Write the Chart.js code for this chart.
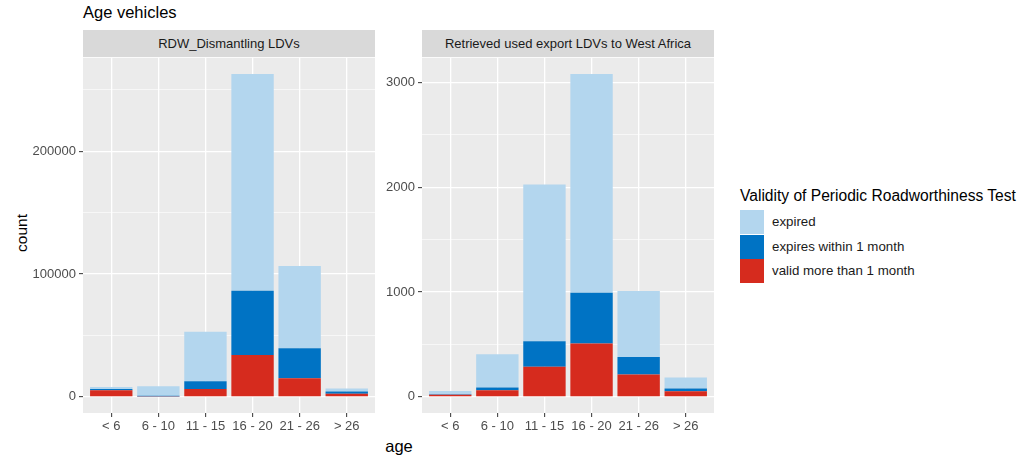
<!DOCTYPE html>
<html>
<head>
<meta charset="utf-8">
<script src="https://cdn.jsdelivr.net/npm/chart.js@4/dist/chart.umd.min.js"></script>
<style>
  html, body { margin:0; padding:0; background:#fff; width:1033px; height:455px; overflow:hidden; font-family:"Liberation Sans", Arial, sans-serif; }
  .abs { position:absolute; }
  .strip { position:absolute; background:#d9d9d9; color:#1a1a1a; font-size:13px; text-align:center; height:27px; line-height:27px; top:30px; white-space:nowrap; }
  .key { position:absolute; left:740px; width:24px; height:24px; }
  .lab { position:absolute; left:772px; font-size:13.3px; color:#1a1a1a; white-space:nowrap; }
</style>
</head>
<body>
<div class="abs" style="left:83px; top:3px; font-size:16.5px; color:#000;">Age vehicles</div>
<div class="strip" style="left:83px; width:292px;">RDW_Dismantling LDVs</div>
<div class="strip" style="left:422px; width:292px;">Retrieved used export LDVs to West Africa</div>
<div class="abs" style="left:22px; top:233px; transform:translate(-50%,-50%) rotate(-90deg); font-size:15.5px; color:#000;">count</div>
<div class="abs" style="left:399px; top:446px; transform:translate(-50%,-50%); font-size:16.5px; color:#000;">age</div>

<div class="abs" style="left:0; top:47px; width:375px; height:390px;"><canvas id="c1"></canvas></div>
<div class="abs" style="left:380px; top:47px; width:334px; height:390px;"><canvas id="c2"></canvas></div>

<div class="abs" style="left:740px; top:187px; font-size:15.6px; color:#000; white-space:nowrap;">Validity of Periodic Roadworthiness Test</div>
<div class="key" style="top:210px; background:#b3d6ee;"></div>
<div class="key" style="top:234.5px; background:#0073c4;"></div>
<div class="key" style="top:259px; background:#d62b1e;"></div>
<div class="lab" style="top:214px;">expired</div>
<div class="lab" style="top:239px;">expires within 1 month</div>
<div class="lab" style="top:263px;">valid more than 1 month</div>

<script>
const categories = ['< 6', '6 - 10', '11 - 15', '16 - 20', '21 - 26', '> 26'];
const seriesNames = ['valid more than 1 month', 'expires within 1 month', 'expired'];
const seriesColors = ['#d62b1e', '#0073c4', '#b3d6ee'];

// RDW_Dismantling LDVs
const rdwValid   = [5400, 200, 6300, 34000, 15200, 2500];
const rdwExpires = [1000, 800, 6500, 52400, 24400, 1800];
const rdwExpired = [1700, 7700, 40300, 176600, 66900, 2500];
const rdwMajorTicks = [0, 100000, 200000];
const rdwMinorTicks = [50000, 150000, 250000];

// Retrieved used export LDVs to West Africa
const expValid   = [20, 62, 286, 508, 213, 54];
const expExpires = [5, 28, 244, 486, 168, 26];
const expExpired = [32, 317, 1496, 2086, 629, 105];
const expMajorTicks = [0, 1000, 2000, 3000];
const expMinorTicks = [500, 1500, 2500];

const panelBg = {
  id: 'panelBg',
  beforeDraw(chart) {
    const a = chart.chartArea, ctx = chart.ctx;
    ctx.save();
    ctx.fillStyle = '#ebebeb';
    ctx.fillRect(a.left, a.top, a.right - a.left, a.bottom - a.top);
    ctx.restore();
  }
};

function makeChart(id, seriesList, major, minor) {
  const totals = categories.map((_, i) => seriesList.reduce((s, arr) => s + arr[i], 0));
  const maxTotal = Math.max(...totals);
  const allTicks = major.concat(minor).sort((a, b) => a - b);
  const datasets = seriesList.map((arr, k) => ({
    label: seriesNames[k],
    data: arr.map((v, i) => ({ x: i + 1, y: v })),
    backgroundColor: seriesColors[k],
    borderWidth: 0,
    barPercentage: 0.9,
    categoryPercentage: 1.0
  }));
  return new Chart(document.getElementById(id), {
    type: 'bar',
    data: { datasets },
    plugins: [panelBg],
    options: {
      responsive: true,
      maintainAspectRatio: false,
      animation: false,
      layout: { padding: { top: 10, left: 0, right: 0, bottom: 0 } },
      plugins: { legend: { display: false }, tooltip: { enabled: false } },
      scales: {
        x: {
          type: 'linear',
          stacked: true,
          offset: false,
          min: 0.4,
          max: categories.length + 0.6,
          afterBuildTicks: s => { s.ticks = categories.map((c, i) => ({ value: i + 1 })); },
          afterFit: s => { s.height = 24; },
          ticks: {
            callback: v => categories[Math.round(v) - 1] || '',
            color: '#4d4d4d',
            font: { family: '"Liberation Sans", Arial, sans-serif', size: 13 },
            padding: 2,
            maxRotation: 0,
            autoSkip: false
          },
          grid: { offset: false, color: '#ffffff', lineWidth: 1.3, tickColor: '#333333', tickLength: 4, tickWidth: 1 },
          border: { display: false }
        },
        y: {
          type: 'linear',
          stacked: true,
          min: -0.05 * maxTotal,
          max: 1.05 * maxTotal,
          afterBuildTicks: s => { s.ticks = allTicks.map(v => ({ value: v })); },
          afterFit: s => { s.width = id === 'c1' ? 83 : 42; },
          ticks: {
            callback: v => major.includes(v) ? String(v) : '',
            color: '#4d4d4d',
            font: { family: '"Liberation Sans", Arial, sans-serif', size: 13 },
            padding: 3,
            autoSkip: false
          },
          grid: {
            color: '#ffffff',
            lineWidth: c => (c.tick && major.includes(c.tick.value)) ? 1.3 : 0.6,
            tickColor: c => (c.tick && major.includes(c.tick.value)) ? '#333333' : 'rgba(0,0,0,0)',
            tickLength: 4,
            tickWidth: 1
          },
          border: { display: false }
        }
      }
    }
  });
}

makeChart('c1', [rdwValid, rdwExpires, rdwExpired], rdwMajorTicks, rdwMinorTicks);
makeChart('c2', [expValid, expExpires, expExpired], expMajorTicks, expMinorTicks);
</script>
</body>
</html>
